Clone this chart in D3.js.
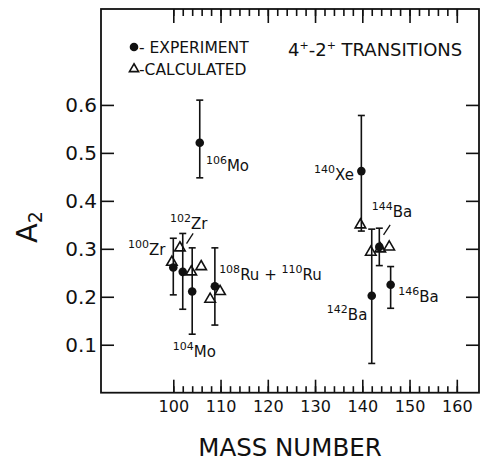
<!DOCTYPE html>
<html>
<head>
<meta charset="utf-8">
<script src="https://cdn.jsdelivr.net/npm/d3@7"></script>
<style>
  html, body { margin: 0; padding: 0; background: #fff; }
  svg { display: block; }
  text { font-family: "DejaVu Sans", sans-serif; fill: #111; }
</style>
</head>
<body>
<svg id="chart" width="482" height="462"></svg>
<script>
// ---- data ----
const expMass  = [100, 102, 104, 105.6, 108.8, 139.8, 142, 143.6, 146];
const expA2    = [0.261, 0.252, 0.211, 0.521, 0.222, 0.462, 0.202, 0.304, 0.225];
const expLow   = [0.204, 0.174, 0.122, 0.448, 0.141, 0.337, 0.061, 0.265, 0.176];
const expHigh  = [0.322, 0.332, 0.302, 0.610, 0.302, 0.578, 0.341, 0.343, 0.263];
const calcMass = [99.7, 101.4, 103.8, 105.9, 107.8, 109.9, 139.6, 141.8, 143.8, 145.7];
const calcA2   = [0.272, 0.302, 0.252, 0.263, 0.195, 0.211, 0.350, 0.293, 0.300, 0.304];
const xMajorTicks = [100, 110, 120, 130, 140, 150, 160];
const xMinorTicks = d3.range(100, 161, 2);
const yTicks = [0.1, 0.2, 0.3, 0.4, 0.5, 0.6];
const isoText  = ["{100}Zr", "{102}Zr", "{104}Mo", "{106}Mo", "{108}Ru + {110}Ru", "{140}Xe", "{142}Ba", "{144}Ba", "{146}Ba"];
const isoMass  = [90.4, 99.3, 99.9, 106.9, 109.7, 129.8, 132.5, 142.0, 147.6];
const isoA2    = [0.287, 0.341, 0.074, 0.462, 0.236, 0.443, 0.152, 0.367, 0.190];
const leaderMass = [[102.8, 104.2], [144.5, 145.9]];
const leaderA2   = [[0.311, 0.332], [0.329, 0.350]];

// ---- layout ----
const svg = d3.select("#chart");
const L = 101, R = 479, T = 9, B = 392.7;
const x = d3.scaleLinear().domain([84.7, 164.7]).range([L, R]);
const y = d3.scaleLinear().domain([0, 0.8]).range([B, T]);

// frame
svg.append("rect").attr("x", L).attr("y", T).attr("width", R - L).attr("height", B - T)
  .attr("fill", "none").attr("stroke", "#111").attr("stroke-width", 1.8);

function styleAxis(g) {
  g.select(".domain").remove();
  g.selectAll(".tick line").attr("stroke", "#111").attr("stroke-width", 1.6);
}
// bottom axis major with labels
svg.append("g").attr("transform", `translate(0,${B})`)
  .call(d3.axisBottom(x).tickValues(xMajorTicks).tickSize(-13).tickPadding(8).tickFormat(d3.format("d")))
  .call(styleAxis)
  .selectAll("text").attr("font-size", 16).style("font-family", '"DejaVu Sans", sans-serif').attr("fill", "#111");
svg.append("g").attr("transform", `translate(0,${B})`)
  .call(d3.axisBottom(x).tickValues(xMinorTicks).tickSize(-6.5).tickFormat(""))
  .call(styleAxis);
// top axis
svg.append("g").attr("transform", `translate(0,${T})`)
  .call(d3.axisTop(x).tickValues(xMajorTicks).tickSize(-14).tickFormat(""))
  .call(styleAxis);
svg.append("g").attr("transform", `translate(0,${T})`)
  .call(d3.axisTop(x).tickValues(xMinorTicks).tickSize(-7).tickFormat(""))
  .call(styleAxis);
// left axis
svg.append("g").attr("transform", `translate(${L},0)`)
  .call(d3.axisLeft(y).tickValues(yTicks).tickSize(-13).tickPadding(4).tickFormat(d3.format(".1f")))
  .call(styleAxis)
  .selectAll("text").attr("font-size", 20).style("font-family", '"DejaVu Sans", sans-serif').attr("fill", "#111");
// right axis
svg.append("g").attr("transform", `translate(${R},0)`)
  .call(d3.axisRight(y).tickValues(yTicks).tickSize(-13).tickFormat(""))
  .call(styleAxis);

// axis titles
svg.append("text").attr("x", (L + R) / 2).attr("y", 456).attr("text-anchor", "middle")
  .attr("font-size", 24.5).text("MASS NUMBER");
const yl = svg.append("text").attr("transform", "translate(37,227) rotate(-90)")
  .attr("text-anchor", "middle").attr("font-size", 29);
yl.append("tspan").text("A");
yl.append("tspan").attr("font-size", 19).attr("dy", 5).text("2");

// calculated triangles
const tri = d3.symbol().type(d3.symbolTriangle).size(48);
svg.append("g").selectAll("path").data(calcMass).join("path")
  .attr("transform", (d, i) => `translate(${x(d)},${y(calcA2[i])})`)
  .attr("d", tri).attr("fill", "none").attr("stroke", "#111").attr("stroke-width", 1.6);

// experiment error bars and points
const eg = svg.append("g");
expMass.forEach((m, i) => {
  const cx = x(m);
  eg.append("line").attr("x1", cx).attr("x2", cx).attr("y1", y(expLow[i])).attr("y2", y(expHigh[i]))
    .attr("stroke", "#111").attr("stroke-width", 1.6);
  [expLow[i], expHigh[i]].forEach(v => {
    eg.append("line").attr("x1", cx - 3.5).attr("x2", cx + 3.5).attr("y1", y(v)).attr("y2", y(v))
      .attr("stroke", "#111").attr("stroke-width", 1.6);
  });
  eg.append("circle").attr("cx", cx).attr("cy", y(expA2[i])).attr("r", 4.3).attr("fill", "#111");
});

// isotope labels
isoText.forEach((s, i) => {
  const t = svg.append("text").attr("x", x(isoMass[i])).attr("y", y(isoA2[i])).attr("font-size", 15);
  const parts = s.split(/(\{[^}]+\})/).filter(p => p.length);
  let raised = false;
  parts.forEach(p => {
    if (p.startsWith("{")) {
      t.append("tspan").attr("font-size", 11).attr("dy", raised ? 0 : -7).text(p.slice(1, -1));
      raised = true;
    } else {
      t.append("tspan").attr("dy", raised ? 7 : 0).text(p);
      raised = false;
    }
  });
});
leaderMass.forEach((m, i) => {
  svg.append("line").attr("x1", x(m[0])).attr("x2", x(m[1]))
    .attr("y1", y(leaderA2[i][0])).attr("y2", y(leaderA2[i][1]))
    .attr("stroke", "#111").attr("stroke-width", 1.3);
});

// legend
svg.append("circle").attr("cx", 134).attr("cy", 47).attr("r", 4.3).attr("fill", "#111");
svg.append("text").attr("x", 139).attr("y", 53).attr("font-size", 15.5).text("- EXPERIMENT");
svg.append("path").attr("transform", "translate(134,69)").attr("d", d3.symbol().type(d3.symbolTriangle).size(36))
  .attr("fill", "none").attr("stroke", "#111").attr("stroke-width", 1.6);
svg.append("text").attr("x", 139).attr("y", 75).attr("font-size", 15.5).text("-CALCULATED");
const tt = svg.append("text").attr("x", 288).attr("y", 56).attr("font-size", 18);
tt.append("tspan").text("4");
tt.append("tspan").attr("font-size", 11).attr("dy", -7).text("+");
tt.append("tspan").attr("dy", 7).text("-2");
tt.append("tspan").attr("font-size", 11).attr("dy", -7).text("+");
tt.append("tspan").attr("dy", 7).text(" TRANSITIONS");
</script>
</body>
</html>
